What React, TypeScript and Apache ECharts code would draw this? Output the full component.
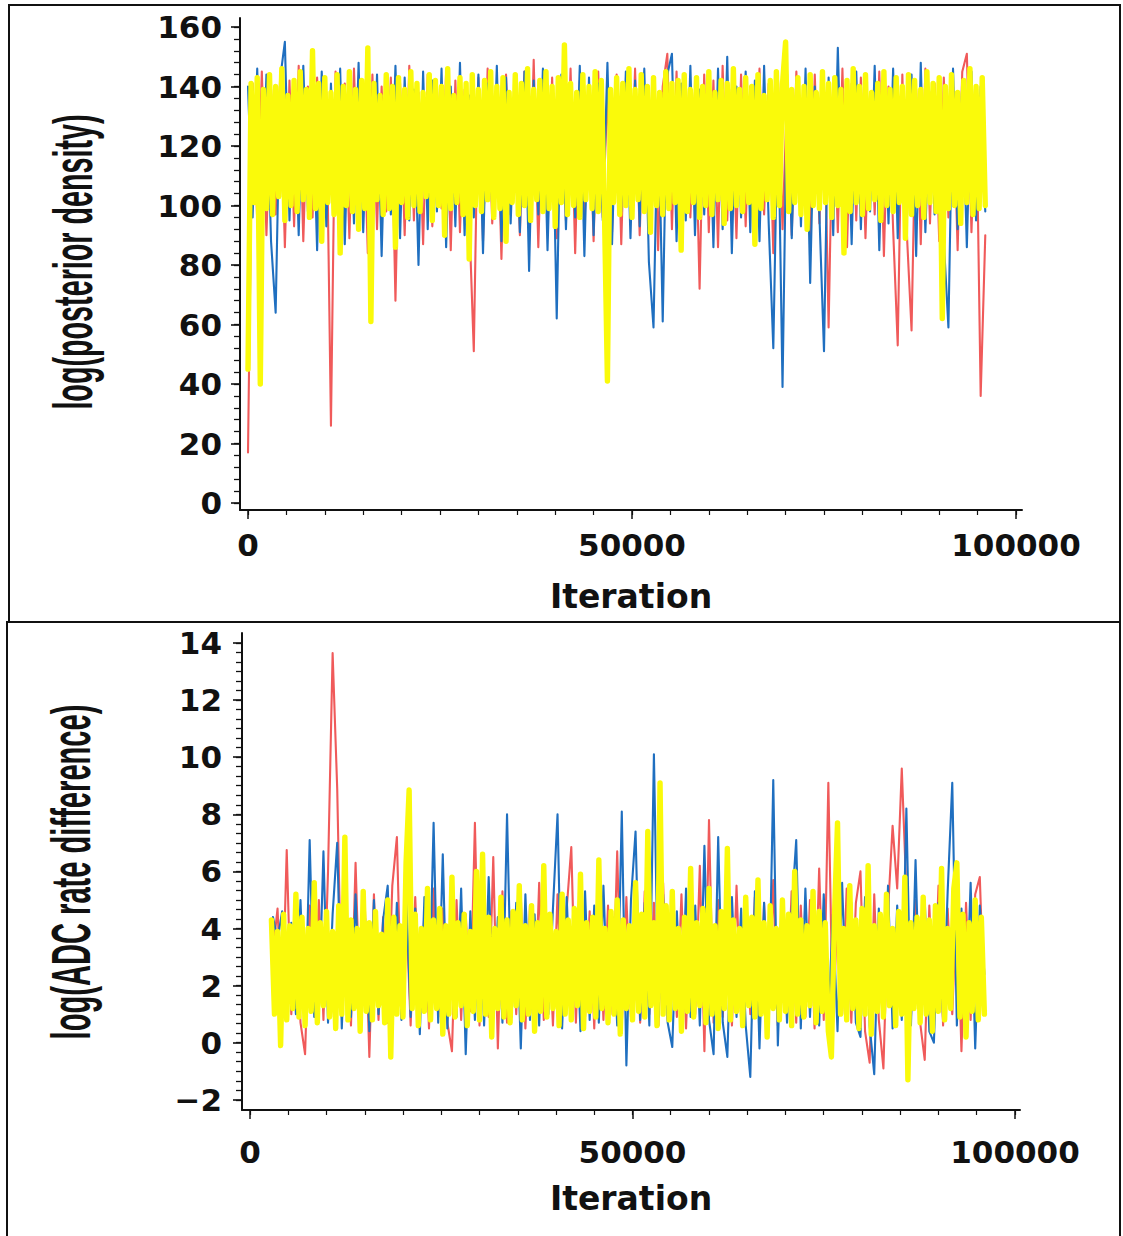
import React, { useEffect, useRef } from "react";
import * as echarts from "echarts";

// ---------- iteration spacing of the thinned chains ----------
const topYellowStart = 0;
const topYellowStep = 400;
const topChainStart = 0;
const topChainStep = 600;
const botYellowStart = 2800;
const botYellowStep = 400;
const botChainStart = 3000;
const botChainStep = 600;

// ---------- tick values ----------
const xMajor = [0, 50000, 100000];
const xMinor = [0, 5000, 10000, 15000, 20000, 25000, 30000, 35000, 40000, 45000, 50000, 55000, 60000, 65000, 70000, 75000, 80000, 85000, 90000, 95000, 100000];
const topYMajor = [0, 20, 40, 60, 80, 100, 120, 140, 160];
const botYMajor = [-2, 0, 2, 4, 6, 8, 10, 12, 14];

// ---------- top panel: log(posterior density) ----------
const topYellow = [
  45, 141, 101, 143, 40, 139, 99, 144, 97, 140,
  103, 146, 95, 137, 100, 142, 98, 145, 102, 139,
  96, 152, 99, 141, 88, 143, 101, 138, 97, 144,
  84, 140, 100, 145, 98, 139, 92, 142, 99, 153,
  61, 141, 102, 137, 97, 144, 99, 140, 86, 143,
  101, 139, 96, 145, 100, 141, 98, 138, 103, 144,
  95, 142, 100, 140, 90, 146, 99, 137, 101, 143,
  97, 141, 82, 144, 100, 139, 98, 142, 102, 145,
  96, 140, 99, 143, 88, 138, 101, 144, 97, 141,
  100, 146, 95, 139, 102, 142, 98, 145, 99, 140,
  93, 143, 101, 154, 97, 141, 100, 138, 96, 144,
  102, 140, 99, 145, 98, 142, 100, 41, 139, 101,
  143, 97, 141, 100, 146, 96, 139, 102, 144, 98,
  140, 91, 143, 100, 138, 97, 145, 99, 141, 101,
  142, 85, 144, 98, 139, 101, 143, 96, 140, 100,
  145, 97, 138, 102, 142, 94, 141, 99, 146, 100,
  139, 98, 143, 101, 140, 87, 144, 99, 137, 102,
  142, 96, 145, 100, 141, 155, 98, 139, 101, 143,
  97, 140, 92, 144, 100, 138, 99, 145, 101, 141,
  96, 143, 100, 139, 84, 142, 98, 146, 101, 140,
  97, 144, 99, 138, 102, 141, 95, 145, 100, 139,
  98, 143, 101, 140, 89, 144, 97, 142, 100, 139,
  96, 145, 101, 141, 98, 143, 62, 140, 99, 144,
  100, 138, 94, 142, 101, 146, 97, 140, 99, 143, 100,
];
const topBlue = [
  140, 96, 146, 92, 144, 88, 64, 143, 155, 95,
  142, 90, 147, 98, 139, 85, 145, 93, 141, 99,
  146, 87, 140, 94, 148, 91, 138, 96, 144, 83,
  141, 97, 147, 89, 143, 95, 139, 80, 145, 92,
  142, 98, 146, 86, 140, 93, 148, 90, 137, 96,
  144, 84, 141, 99, 147, 88, 143, 94, 139, 91,
  145, 78, 142, 97, 146, 85, 140, 62, 144, 92,
  139, 96, 147, 83, 143, 90, 141, 95, 148, 87,
  140, 98, 145, 89, 142, 93, 146, 81, 59, 138,
  61, 144, 151, 88, 141, 95, 147, 90, 139, 97,
  143, 86, 146, 92, 150, 84, 140, 96, 145, 91,
  142, 88, 147, 94, 52, 136, 39, 144, 89, 141,
  93, 146, 74, 140, 97, 51, 143, 90, 153, 95,
  141, 87, 145, 92, 139, 98, 147, 85, 142, 94,
  146, 89, 140, 96, 144, 83, 148, 91, 138, 97,
  143, 88, 59, 146, 92, 141, 86, 145, 95, 140,
  98,
];
const topRed = [
  17, 141, 95, 145, 90, 139, 97, 144, 86, 142,
  93, 147, 88, 140, 96, 143, 91, 138, 26, 145,
  94, 141, 89, 146, 97, 139, 84, 144, 92, 140,
  98, 143, 68, 141, 90, 147, 95, 138, 87, 144,
  93, 140, 99, 145, 85, 142, 91, 139, 96, 51,
  143, 88, 146, 94, 140, 82, 144, 97, 138, 90,
  145, 92, 149, 86, 141, 98, 143, 89, 139, 95,
  146, 84, 142, 93, 140, 88, 145, 96, 138, 91,
  144, 87, 141, 97, 146, 90, 139, 94, 143, 85,
  140, 151, 92, 145, 88, 141, 96, 138, 72, 144,
  91, 142, 86, 147, 95, 139, 89, 144, 93, 140,
  87, 146, 97, 141, 84, 143, 92, 138, 90, 145,
  96, 140, 88, 144, 94, 139, 59, 142, 91, 146,
  86, 141, 95, 143, 89, 138, 97, 145, 83, 140,
  92, 53, 144, 90, 58, 139, 87, 146, 94, 141,
  88, 143, 96, 140, 85, 145, 151, 91, 139, 36,
  90,
];

// ---------- bottom panel: log(ADC rate difference) ----------
const botYellow = [
  4.3, 1.0, 3.9, -0.1, 4.5, 0.8, 4.1, 1.2, 5.2, 0.9,
  4.4, 0.6, 4.0, 1.1, 5.6, 0.7, 4.2, 1.3, 4.6, 0.9,
  3.9, 0.5, 4.8, 1.0, 7.2, 0.8, 4.3, 1.2, 4.0, 0.4,
  5.3, 1.1, 4.2, 0.8, 4.6, 1.3, 3.8, 0.7, 5.0, -0.5,
  4.4, 1.0, 4.1, 0.9, 6.3, 8.85, 1.2, 4.5, 0.6, 4.0,
  1.1, 5.4, 0.8, 4.3, 1.2, 4.7, 0.3, 4.1, 1.0, 5.8,
  0.9, 4.2, 1.3, 4.5, 0.6, 3.9, 1.1, 6.0, 0.8, 6.6,
  1.0, 4.4, 0.2, 4.0, 1.2, 5.1, 0.9, 4.3, 0.7, 4.6,
  1.3, 5.5, 0.8, 4.1, 1.0, 4.8, 0.4, 4.2, 1.1, 6.2,
  0.9, 4.5, 1.2, 3.9, 0.6, 5.2, 1.0, 4.3, 0.8, 4.7,
  1.3, 5.9, 0.5, 4.2, 1.1, 4.4, 0.9, 6.4, 1.2, 4.0,
  0.7, 4.6, 1.0, 5.0, 0.3, 4.3, 1.2, 4.1, 0.8, 5.6,
  1.1, 4.5, 0.9, 7.4, 1.3, 4.2, 0.6, 9.1, 1.0, 4.8,
  0.8, 5.3, 1.2, 4.0, 0.4, 4.4, 1.1, 6.1, 0.9, 4.2,
  1.3, 4.7, 0.7, 5.4, 1.0, 4.1, 0.5, 4.6, 1.2, 6.8,
  0.8, 4.3, 1.1, 4.0, 0.6, 5.1, 1.3, 4.4, 0.9, 5.7,
  1.0, 4.2, 0.2, 4.8, 1.2, 4.0, 0.8, 5.0, 1.1, 4.5,
  0.6, 6.0, 1.0, 4.3, 0.9, 4.1, 1.3, 5.3, 0.7, 4.6,
  1.1, 4.2, 0.4, -0.5, 4.4, 7.7, 1.0, 4.0, 0.8, 5.5,
  1.2, 4.3, 0.5, 4.7, 1.0, 6.2, 0.3, 4.1, 1.1, 4.5,
  0.9, 5.2, 1.3, 4.0, 0.6, 4.6, 1.0, 5.8, -1.3, 4.2,
  1.2, 4.4, 0.7, 5.1, 1.0, 4.3, 0.4, 4.8, 1.1, 6.1,
  0.8, 4.0, 1.2, 5.4, 6.3, 0.9, 4.5, 0.2, 4.2, 1.1,
  5.0, 0.8, 4.4, 1.0,
];
const botBlue = [
  4.4, 3.6, 4.6, 0.8, 4.2, 1.0, 5.0, 0.6, 7.1, 0.9,
  1.2, 6.7, 0.7, 4.5, 7.0, 0.5, 4.8, 0.9, 5.2, 0.8,
  4.6, 0.4, 5.0, 1.0, 4.3, 5.5, 0.6, 4.9, 0.8, 5.3,
  0.9, 4.7, 0.3, 5.1, 1.1, 7.7, 0.7, 6.6, 0.5, 4.8,
  0.9, 5.4, -0.4, 4.6, 0.8, 5.0, 0.6, 5.8, 1.0, 4.4,
  0.7, 8.0, 0.9, 4.9, -0.2, 5.2, 0.8, 4.5, 0.6, 5.6,
  1.0, 4.7, 8.0, 0.5, 5.1, 0.9, 4.6, 0.4, 5.3, 0.8,
  4.8, 0.7, 5.5, 1.0, 4.4, 0.6, 8.1, -0.8, 5.0, 7.4,
  0.8, 4.9, 0.6, 10.1, 0.9, 5.2, 0.7, -0.15, 4.6, 0.5,
  5.4, 0.9, 4.8, 0.6, 6.9, 0.8, -0.4, 7.2, 0.7, -0.5,
  5.1, 0.9, 4.7, 0.6, -1.2, 5.3, -0.2, 4.9, 0.8, 9.2,
  -0.1, 5.0, 0.7, 4.6, 7.1, 0.5, 5.4, 0.9, 4.8, 0.6,
  5.2, 0.8, 4.5, 0.4, 5.6, 1.0, 4.9, 0.7, 0.2, 5.1,
  0.6, -1.1, 4.7, 0.9, 5.5, 0.5, 4.8, 0.8, 8.2, 0.6,
  6.4, 0.7, 5.0, 0.4, 0.0, 4.9, 0.8, 5.3, 9.1, 0.6,
  4.7, 0.9, 5.6, -0.2, 4.8, 2.4,
];
const botRed = [
  3.2, 4.7, 0.9, 6.75, 1.0, 4.5, 0.7, -0.4, 4.8, 1.1,
  5.0, 0.8, 6.0, 13.65, 8.9, 0.9, 4.6, 0.6, 6.3, 1.0,
  4.9, -0.5, 5.2, 0.8, 4.4, 0.7, 5.5, 7.2, 0.9, 4.8,
  0.6, 5.1, 1.0, 4.6, 0.5, 5.4, 0.9, 4.7, 0.7, -0.3,
  5.0, 0.8, 4.5, 1.1, 7.7, 0.6, 4.9, 0.9, 6.5, -0.2,
  5.3, 0.7, 4.6, 1.0, 5.1, 0.5, 4.8, 0.9, 5.6, 0.8,
  4.4, 0.6, 5.2, 1.0, 4.7, 6.85, 0.7, 5.0, 0.9, 4.6,
  0.5, 5.4, 0.8, 4.8, 1.0, 6.7, 0.6, 5.1, 0.9, 4.5,
  0.7, 5.3, 1.0, 4.9, 0.6, 5.6, 0.8, 4.4, 0.9, 5.2,
  0.5, 4.7, 1.0, 6.2, -0.3, 7.8, 0.7, 5.0, 0.9, 4.6,
  0.6, 5.5, 0.8, 4.8, 1.0, 5.1, 0.4, 4.9, 0.8, 5.7,
  0.6, 4.6, 1.0, 5.3, 0.7, 4.8, 0.9, 5.0, 0.5, 6.1,
  0.8, 9.1, 0.6, 4.7, 1.0, 5.4, 0.7, 4.9, 6.0, 0.4,
  -0.7, 5.2, 0.8, -0.9, 4.6, 7.6, 5.4, 9.6, 5.3, 0.9,
  5.0, 0.7, -0.6, 4.8, 0.9, 5.5, 0.6, 4.7, 1.0, 5.1,
  -0.3, 4.9, 0.8, 5.2, 5.8, 1.0,
];

// ---------- colours ----------
const YELLOW = "#fafa0a";
const BLUE = "#1f6fc0";
const RED = "#f05a5a";
const INK = "#111111";

function toPairs(start: number, step: number, values: number[]) {
  return values.map((v, i) => [start + i * step, v]);
}

function subdivide(majors: number[], parts: number) {
  const out: number[] = [];
  for (let k = 0; k < majors.length - 1; k++) {
    const a = majors[k];
    const b = majors[k + 1];
    for (let j = 0; j < parts; j++) out.push(+(a + ((b - a) * j) / parts).toFixed(5));
  }
  out.push(majors[majors.length - 1]);
  return out;
}

const tickFont = { fontFamily: "DejaVu Sans", fontWeight: "bold" as const, fontSize: 31, color: INK };

function fmt(v: number) {
  if (v < 0) return "\u2212" + String(Math.abs(v));
  return String(v);
}

function makeX(gridIndex: number, min: number, max: number, labelMargin: number, nameGap: number) {
  return [
    {
      type: "value", gridIndex, min, max, position: "bottom",
      axisLine: { show: true, onZero: false, lineStyle: { color: INK, width: 2 } },
      axisTick: { show: true, customValues: xMajor, length: 9, lineStyle: { color: INK, width: 1.5 } },
      axisLabel: { show: true, customValues: xMajor, margin: labelMargin, formatter: fmt, hideOverlap: false, ...tickFont },
      splitLine: { show: false },
      name: "Iteration", nameLocation: "middle", nameGap,
      nameTextStyle: { fontFamily: "DejaVu Sans", fontWeight: "bold", fontSize: 33, color: INK },
    },
    {
      type: "value", gridIndex, min, max, position: "bottom",
      axisLine: { show: false, onZero: false },
      axisTick: { show: true, customValues: xMinor, length: 5, lineStyle: { color: INK, width: 1.2 } },
      axisLabel: { show: false },
      splitLine: { show: false },
    },
  ];
}

function makeY(gridIndex: number, min: number, max: number, majors: number[], minors: number[], labelMargin: number) {
  return [
    {
      type: "value", gridIndex, min, max, position: "left",
      axisLine: { show: true, onZero: false, lineStyle: { color: INK, width: 2 } },
      axisTick: { show: true, customValues: majors, length: 9, lineStyle: { color: INK, width: 1.6 } },
      axisLabel: { show: true, customValues: majors, margin: labelMargin, formatter: fmt, hideOverlap: false, ...tickFont },
      splitLine: { show: false },
    },
    {
      type: "value", gridIndex, min, max, position: "left",
      axisLine: { show: false, onZero: false },
      axisTick: { show: true, customValues: minors, length: 6, lineStyle: { color: INK, width: 1.3 } },
      axisLabel: { show: false },
      splitLine: { show: false },
    },
  ];
}

function line(name: string, data: number[][], color: string, width: number, xAxisIndex: number, yAxisIndex: number) {
  return {
    type: "line", name, data, xAxisIndex, yAxisIndex,
    showSymbol: false, symbol: "none", silent: true,
    lineStyle: { color, width, join: "round", cap: "round" },
    itemStyle: { color },
    emphasis: { disabled: true },
  };
}

export default function App() {
  const ref = useRef<HTMLDivElement | null>(null);

  useEffect(() => {
    if (!ref.current) return;
    const chart = echarts.init(ref.current, undefined, { renderer: "svg" });

    const option: any = {
      animation: false,
      backgroundColor: "#ffffff",
      grid: [
        { left: 240, top: 18, width: 782, height: 492, containLabel: false, outerBoundsMode: "none" },
        { left: 242, top: 633, width: 778, height: 477, containLabel: false, outerBoundsMode: "none" },
      ],
      xAxis: [
        ...makeX(0, -1042, 100781, 19, 70),
        ...makeX(1, -1046, 100654, 26, 72),
      ],
      yAxis: [
        ...makeY(0, -2.35, 163.03, topYMajor, subdivide(topYMajor, 5), 18),
        ...makeY(1, -2.357, 14.35, botYMajor, subdivide(botYMajor, 6), 20),
      ],
      series: [
        line("Chain 3 (top)", toPairs(topChainStart, topChainStep, topRed), RED, 2.1, 0, 0),
        line("Chain 2 (top)", toPairs(topChainStart, topChainStep, topBlue), BLUE, 2.1, 0, 0),
        line("Chain 1 (top)", toPairs(topYellowStart, topYellowStep, topYellow), YELLOW, 5.4, 0, 0),
        line("Chain 3 (bottom)", toPairs(botChainStart, botChainStep, botRed), RED, 2.1, 2, 2),
        line("Chain 2 (bottom)", toPairs(botChainStart, botChainStep, botBlue), BLUE, 2.1, 2, 2),
        line("Chain 1 (bottom)", toPairs(botYellowStart, botYellowStep, botYellow), YELLOW, 5.4, 2, 2),
      ],
      graphic: [
        { type: "rect", silent: true, z: 0, shape: { x: 9, y: 5, width: 1111, height: 617 }, style: { fill: "none", stroke: INK, lineWidth: 2 } },
        { type: "rect", silent: true, z: 0, shape: { x: 7, y: 622, width: 1113, height: 640 }, style: { fill: "none", stroke: INK, lineWidth: 2 } },
        {
          type: "text", silent: true, x: 72, y: 262, rotation: Math.PI / 2, scaleX: 0.513, scaleY: 1,
          style: {
            text: "log(posterior density)", fontFamily: "Liberation Sans", fontWeight: "bold", fontSize: 56, fill: INK,
            align: "center", verticalAlign: "middle", textAlign: "center", textVerticalAlign: "middle",
          },
        },
        {
          type: "text", silent: true, x: 71, y: 872, rotation: Math.PI / 2, scaleX: 0.52, scaleY: 1,
          style: {
            text: "log(ADC rate difference)", fontFamily: "Liberation Sans", fontWeight: "bold", fontSize: 56, fill: INK,
            align: "center", verticalAlign: "middle", textAlign: "center", textVerticalAlign: "middle",
          },
        },
      ],
    };

    chart.setOption(option);
    return () => {
      chart.dispose();
    };
  }, []);

  return (
    <div
      ref={ref}
      style={{ position: "absolute", left: 0, top: 0, width: 1123, height: 1236, background: "#ffffff" }}
    />
  );
}
